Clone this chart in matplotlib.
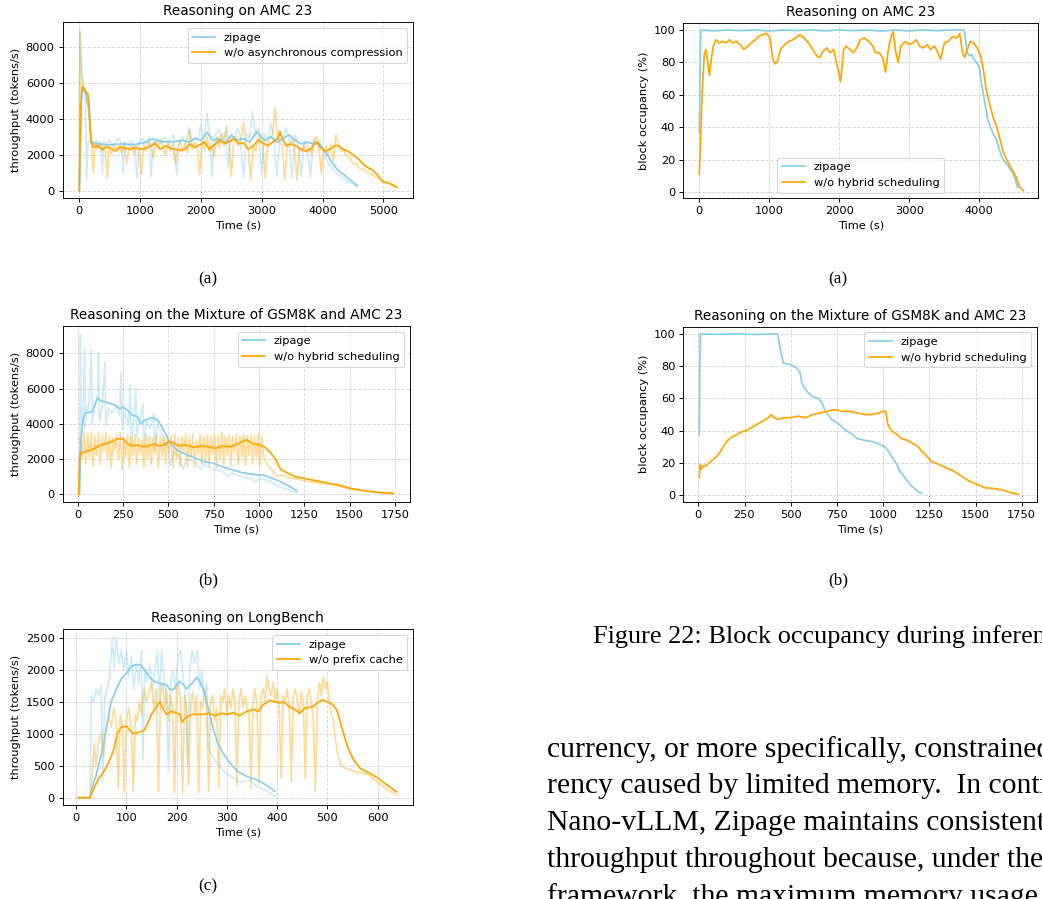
import matplotlib
matplotlib.use('Agg')
import matplotlib.pyplot as plt

DPI = 82
W, H = 1042, 899

ZIP_C = '#87CEEB'
BASE_C = '#FFA500'

# ---------------- data ----------------
# Left (a): throughput on AMC 23
amc_tp_zipage_raw = [(0, 0), (12, 8900), (40, 7000), (70, 5500), (100, 5400), (120, 600), (140, 2700), (170, 2800),
    (200, 2600), (230, 2700), (260, 2500), (290, 2800), (320, 2600), (350, 2700), (380, 1000), (400, 2700),
    (450, 2600), (500, 2800), (550, 2500), (600, 2700), (650, 2900), (700, 2600), (720, 1000), (750, 2700),
    (800, 2500), (850, 2800), (900, 2600), (950, 700), (980, 2700), (1050, 2900), (1100, 2600), (1150, 3000),
    (1180, 800), (1220, 2800), (1300, 2900), (1350, 2600), (1400, 3000), (1450, 2700), (1500, 2800), (1550, 3100),
    (1600, 900), (1650, 2800), (1700, 3000), (1750, 2600), (1800, 3500), (1850, 2700), (1900, 3000), (1950, 2800),
    (2000, 3700), (2050, 2600), (2100, 4300), (2150, 2900), (2180, 800), (2220, 3000), (2300, 3400), (2350, 2700),
    (2400, 3300), (2450, 1300), (2500, 3100), (2550, 2800), (2600, 3500), (2650, 3000), (2700, 700), (2750, 3200),
    (2800, 2900), (2850, 4400), (2900, 3000), (2950, 3500), (3000, 900), (3050, 3200), (3100, 2800), (3150, 3700),
    (3200, 2900), (3250, 800), (3300, 3000), (3350, 2700), (3400, 3500), (3450, 2800), (3500, 700), (3550, 3100),
    (3600, 2700), (3650, 800), (3700, 2800), (3750, 2600), (3800, 700), (3850, 2900), (3900, 2600), (3950, 2800),
    (4000, 2300), (4050, 1900), (4100, 1500), (4150, 1300), (4200, 1100), (4250, 900), (4300, 800), (4350, 650),
    (4400, 550), (4450, 450), (4500, 350), (4580, 200)]
amc_tp_base_raw = [(0, 0), (8, 8800), (30, 6500), (60, 5800), (90, 5500), (120, 5200), (150, 4600), (170, 3500),
    (200, 2700), (230, 1000), (260, 2700), (300, 2300), (340, 2600), (380, 2200), (420, 2500), (460, 700),
    (490, 2400), (530, 2000), (570, 2600), (610, 2300), (650, 2500), (700, 2100), (740, 2700), (780, 1500),
    (820, 2400), (860, 2600), (900, 2000), (940, 2500), (980, 2300), (1020, 900), (1060, 2600), (1100, 2200),
    (1140, 2800), (1180, 2400), (1220, 1800), (1260, 2700), (1300, 2400), (1340, 2900), (1380, 2300), (1420, 2000),
    (1460, 2800), (1500, 2200), (1540, 2600), (1580, 1500), (1620, 2400), (1660, 2800), (1700, 2200), (1740, 2600),
    (1780, 2100), (1820, 3400), (1860, 2300), (1900, 2700), (1940, 2400), (1980, 900), (2020, 2800), (2060, 2300),
    (2100, 3000), (2140, 2200), (2180, 2600), (2220, 1900), (2260, 3000), (2300, 2400), (2340, 3200), (2380, 2500),
    (2420, 3600), (2460, 2600), (2500, 800), (2540, 2800), (2580, 3000), (2620, 2500), (2660, 2900), (2700, 3800),
    (2740, 2600), (2780, 2200), (2820, 600), (2860, 2500), (2900, 2200), (2940, 2800), (2980, 3100), (3020, 2500),
    (3060, 700), (3100, 2700), (3140, 2900), (3180, 3200), (3220, 4600), (3260, 3000), (3300, 2700), (3340, 2400),
    (3380, 600), (3420, 2600), (3460, 2500), (3500, 2900), (3540, 2300), (3580, 600), (3620, 2400), (3660, 2200),
    (3700, 2600), (3740, 2100), (3780, 2400), (3820, 2000), (3860, 2700), (3900, 3000), (3940, 2400), (3980, 1000),
    (4020, 2200), (4060, 2500), (4100, 2000), (4140, 2600), (4180, 1600), (4220, 3100), (4260, 2600), (4300, 2200),
    (4340, 2300), (4380, 2000), (4420, 1900), (4460, 1800), (4500, 1500), (4560, 1500), (4620, 1200), (4680, 1200),
    (4740, 1000), (4800, 900), (4860, 800), (4920, 700), (4980, 500), (5040, 450), (5100, 400), (5160, 300),
    (5220, 150)]
amc_tp_zipage = [(0, 0), (40, 5700), (100, 5500), (160, 4500), (200, 2700), (300, 2600), (500, 2550), (700, 2600),
    (900, 2550), (1100, 2700), (1200, 2900), (1300, 2750), (1500, 2700), (1700, 2800), (1800, 2700), (1900, 2900),
    (2000, 2800), (2100, 3250), (2200, 2800), (2300, 2900), (2400, 2600), (2500, 3100), (2600, 2800), (2700, 2900),
    (2800, 2700), (2920, 3280), (3050, 2800), (3150, 3000), (3250, 2700), (3350, 2900), (3450, 3100), (3550, 2800),
    (3650, 2600), (3750, 2700), (3850, 2600), (3950, 2600), (4050, 2150), (4150, 1600), (4250, 1150), (4350, 900),
    (4450, 600), (4570, 300)]
amc_tp_base = [(0, 0), (20, 4500), (50, 5800), (80, 5700), (110, 5500), (140, 5400), (160, 4800), (190, 2800),
    (230, 2400), (300, 2500), (380, 2300), (450, 2450), (520, 2350), (600, 2200), (680, 2450), (760, 2350),
    (840, 2300), (920, 2400), (1000, 2300), (1080, 2350), (1160, 2450), (1250, 2650), (1330, 2300), (1420, 2500),
    (1500, 2350), (1580, 2300), (1660, 2250), (1740, 2300), (1820, 2600), (1900, 2400), (1980, 2550), (2060, 2700),
    (2140, 2300), (2220, 2550), (2300, 2800), (2380, 2650), (2460, 2700), (2540, 2900), (2620, 2600), (2700, 2650),
    (2780, 2300), (2860, 2500), (2940, 2800), (3020, 2650), (3100, 2500), (3180, 2700), (3260, 2900), (3300, 3300),
    (3340, 2900), (3400, 2500), (3480, 2600), (3560, 2500), (3640, 2300), (3720, 2200), (3800, 2300), (3880, 2650),
    (3920, 2700), (3960, 2400), (4040, 2200), (4120, 2300), (4200, 2500), (4260, 2500), (4340, 2300), (4420, 2200),
    (4500, 2000), (4580, 1800), (4660, 1500), (4740, 1300), (4820, 1150), (4900, 900), (4980, 550), (5060, 450),
    (5140, 350), (5220, 200)]

# Left (b): throughput on the mixture of GSM8K and AMC 23
mix_tp_zipage_raw = [(10, 0), (15, 9100), (20, 3500), (30, 4800), (38, 8300), (42, 3800), (50, 5000), (60, 4600),
    (75, 8200), (80, 4000), (95, 5200), (110, 5600), (115, 8000), (120, 4200), (135, 5000), (150, 7500),
    (155, 3900), (170, 4900), (190, 4600), (210, 5000), (230, 4500), (240, 6900), (245, 3700), (260, 4700),
    (280, 3900), (290, 6200), (295, 2800), (310, 4400), (320, 6000), (325, 3200), (340, 4100), (360, 5100),
    (365, 2800), (380, 4200), (400, 3700), (420, 4600), (425, 2500), (440, 4000), (460, 3500), (480, 2900),
    (500, 2600), (510, 1600), (530, 2400), (560, 2100), (580, 1400), (600, 2000), (650, 1800), (680, 1400),
    (700, 1700), (750, 1400), (800, 1300), (830, 1000), (850, 1200), (900, 1000), (950, 900), (980, 700),
    (1000, 900), (1050, 800), (1100, 500), (1150, 300), (1210, 100)]
mix_tp_base_raw = [(5, 0), (10, 1500), (15, 3300), (25, 2000), (35, 3500), (45, 1700), (55, 3400), (65, 2100),
    (75, 3500), (85, 1600), (95, 3300), (105, 2200), (115, 3500), (125, 1700), (135, 3300), (145, 2400),
    (155, 3500), (165, 2000), (175, 3300), (185, 1500), (195, 3200), (205, 2500), (215, 3400), (225, 2000),
    (235, 3500), (245, 1400), (255, 3200), (265, 2100), (275, 3400), (285, 1500), (295, 3300), (305, 2200),
    (315, 3400), (325, 1700), (335, 3200), (345, 2300), (355, 3100), (365, 1500), (375, 3400), (385, 2000),
    (395, 3300), (405, 1700), (415, 3200), (425, 2300), (435, 3400), (445, 1500), (455, 3300), (465, 2100),
    (475, 3300), (485, 1700), (495, 3400), (505, 2400), (515, 3300), (525, 1500), (535, 3400), (545, 2000),
    (555, 3200), (565, 1600), (575, 3300), (585, 2400), (595, 3400), (605, 1600), (615, 3300), (625, 2100),
    (635, 3400), (645, 1500), (655, 3100), (665, 2300), (675, 3400), (685, 1700), (695, 3300), (705, 2000),
    (715, 3400), (725, 1600), (735, 3300), (745, 2300), (755, 3400), (765, 1500), (775, 3300), (785, 2000),
    (795, 3500), (805, 1700), (815, 3300), (825, 2200), (835, 3400), (845, 1600), (855, 3300), (865, 2400),
    (875, 3400), (885, 1700), (895, 3300), (905, 2100), (915, 3400), (925, 1600), (935, 3300), (945, 2200),
    (955, 3400), (965, 1700), (975, 3300), (985, 2000), (995, 3400), (1005, 1600), (1015, 3300), (1025, 2200),
    (1035, 1900), (1060, 1500), (1080, 1300), (1100, 1000), (1130, 1100), (1160, 950), (1200, 900), (1250, 750),
    (1300, 700), (1350, 600), (1400, 550), (1450, 450), (1500, 300), (1550, 250), (1600, 150), (1650, 100),
    (1700, 50), (1740, 0)]
mix_tp_zipage = [(10, 0), (15, 2000), (20, 3300), (30, 4200), (40, 4600), (60, 4650), (80, 4700), (100, 5200),
    (110, 5450), (130, 5300), (150, 5250), (180, 5150), (210, 5050), (230, 4850), (250, 4950), (270, 4800),
    (300, 4500), (330, 4400), (350, 4000), (370, 4200), (390, 4300), (420, 4350), (440, 4200), (460, 3900),
    (480, 3500), (500, 3100), (520, 2800), (550, 2500), (600, 2250), (650, 2050), (700, 1850), (750, 1750),
    (800, 1550), (850, 1400), (900, 1250), (950, 1150), (1000, 1100), (1030, 1080), (1060, 950), (1100, 800),
    (1150, 550), (1210, 200)]
mix_tp_base = [(5, 0), (12, 2300), (20, 2350), (40, 2400), (60, 2450), (80, 2550), (100, 2650), (130, 2800),
    (160, 2900), (190, 3000), (220, 3150), (250, 3150), (270, 2900), (300, 2750), (330, 2800), (360, 2700),
    (390, 2750), (420, 2850), (450, 2750), (480, 2800), (500, 3000), (530, 2900), (560, 2750), (600, 2800),
    (640, 2650), (680, 2750), (720, 2700), (760, 2600), (800, 2750), (840, 2700), (880, 2850), (910, 3000),
    (930, 3100), (960, 2900), (1000, 2800), (1030, 2700), (1060, 2400), (1090, 2000), (1120, 1400), (1150, 1250),
    (1200, 1000), (1250, 900), (1300, 800), (1350, 700), (1400, 600), (1450, 500), (1500, 350), (1550, 250),
    (1600, 180), (1650, 120), (1700, 80), (1740, 60)]

# Left (c): throughput on LongBench
lb_tp_zipage_raw = [(5, 0), (28, 0), (30, 1600), (35, 1500), (40, 1700), (45, 1600), (50, 1750), (53, 250),
    (57, 1550), (62, 1700), (67, 1900), (72, 2500), (76, 2000), (80, 2500), (85, 2100), (90, 2300), (95, 2000),
    (100, 2300), (105, 1900), (110, 2200), (115, 1700), (120, 2100), (125, 1800), (130, 2300), (133, 600),
    (137, 2000), (142, 1800), (147, 2100), (152, 1700), (157, 2000), (162, 2300), (166, 1500), (170, 2300),
    (175, 1900), (180, 1500), (184, 400), (188, 1800), (193, 2000), (198, 1700), (203, 2200), (208, 2300),
    (213, 1900), (218, 1500), (222, 500), (226, 2000), (231, 2300), (236, 2100), (241, 2300), (246, 1700),
    (250, 2000), (255, 1600), (260, 1800), (263, 800), (268, 700), (275, 600), (285, 500), (295, 400),
    (305, 350), (315, 300), (325, 250), (335, 250), (345, 280), (355, 200), (365, 150), (375, 130), (385, 80),
    (395, 20), (400, 50)]
lb_tp_base_raw = [(5, 0), (28, 0), (32, 300), (36, 850), (40, 500), (45, 900), (50, 1000), (55, 650), (60, 1100),
    (65, 1300), (70, 1100), (75, 1400), (80, 1200), (84, 150), (88, 1300), (92, 1150), (96, 70), (100, 1200),
    (105, 1400), (110, 1100), (114, 100), (118, 1300), (122, 1200), (126, 1500), (130, 1300), (135, 1700),
    (140, 1500), (145, 1650), (150, 1800), (155, 1400), (160, 1700), (164, 100), (168, 1600), (172, 1800),
    (176, 1400), (180, 1700), (184, 1200), (188, 1600), (192, 1400), (196, 80), (200, 1700), (204, 1800),
    (208, 1500), (212, 70), (216, 1600), (220, 1400), (224, 200), (228, 1500), (232, 1650), (236, 1300),
    (240, 1600), (244, 80), (248, 1500), (252, 1400), (256, 1700), (260, 1300), (264, 100), (268, 1500),
    (272, 1600), (276, 1200), (280, 1400), (284, 150), (288, 1600), (292, 1500), (296, 1700), (300, 1300),
    (304, 1600), (308, 1400), (312, 1700), (316, 1500), (320, 200), (324, 1500), (328, 1700), (332, 1400),
    (336, 1600), (340, 1400), (344, 1300), (348, 150), (352, 1500), (356, 1700), (360, 1400), (364, 200),
    (368, 1600), (372, 1700), (376, 1500), (380, 1900), (384, 1700), (388, 1600), (392, 1800), (396, 1500),
    (400, 1700), (404, 1400), (408, 300), (412, 1600), (416, 1500), (420, 1700), (424, 1400), (428, 250),
    (432, 1600), (436, 1700), (440, 1500), (444, 1300), (448, 1650), (452, 1500), (456, 300), (460, 1600),
    (464, 1700), (468, 1500), (472, 1200), (476, 100), (480, 1500), (484, 1800), (488, 1600), (492, 1900),
    (496, 1700), (500, 1800), (504, 1500), (508, 1300), (512, 1200), (516, 900), (520, 700), (525, 550),
    (530, 480), (540, 450), (550, 420), (560, 400), (570, 380), (580, 370), (590, 300), (600, 250), (610, 180),
    (620, 120), (630, 80), (640, 40)]
lb_tp_zipage = [(5, 0), (28, 0), (32, 150), (40, 350), (48, 600), (55, 850), (62, 1150), (70, 1500), (80, 1700),
    (90, 1850), (100, 1950), (110, 2050), (120, 2080), (130, 2070), (140, 1950), (150, 1850), (160, 1800),
    (170, 1780), (180, 1760), (188, 1680), (195, 1700), (205, 1820), (212, 1780), (220, 1700), (230, 1780),
    (240, 1880), (248, 1800), (255, 1650), (263, 1400), (272, 1100), (282, 850), (292, 700), (305, 550),
    (320, 420), (340, 330), (355, 290), (365, 260), (380, 190), (395, 100)]
lb_tp_base = [(5, 0), (28, 0), (32, 80), (36, 150), (45, 300), (55, 400), (65, 550), (75, 750), (82, 1000),
    (90, 1100), (100, 1120), (108, 1050), (115, 1000), (125, 1020), (135, 1050), (142, 1150), (150, 1300),
    (160, 1420), (167, 1500), (172, 1400), (180, 1300), (190, 1350), (200, 1320), (207, 1300), (211, 1180),
    (218, 1250), (230, 1300), (250, 1300), (265, 1320), (275, 1280), (290, 1320), (300, 1300), (313, 1330),
    (325, 1280), (340, 1350), (353, 1380), (362, 1350), (372, 1450), (385, 1520), (395, 1500), (405, 1480),
    (412, 1500), (425, 1420), (435, 1380), (445, 1320), (455, 1400), (470, 1420), (480, 1480), (490, 1530),
    (500, 1500), (510, 1460), (518, 1380), (525, 1200), (532, 1000), (540, 800), (552, 590), (565, 460),
    (580, 400), (598, 320), (618, 200), (638, 90)]

# Right (a): block occupancy on AMC 23
amc_bo_zipage = [(0, 37), (20, 100), (200, 99.5), (400, 100), (600, 99.6), (800, 100), (1000, 99.4), (1200, 100),
    (1400, 99.7), (1600, 100), (1800, 99.5), (2000, 100), (2200, 99.6), (2400, 100), (2600, 99.3), (2800, 100),
    (3000, 99.5), (3200, 100), (3400, 99.6), (3600, 100), (3780, 100), (3800, 95), (3830, 86), (3860, 84),
    (3890, 85), (3920, 82), (3960, 80), (4000, 77), (4040, 65), (4080, 55), (4120, 45), (4160, 40), (4200, 36),
    (4240, 33), (4280, 27), (4320, 22), (4360, 19), (4400, 17), (4440, 14), (4480, 12), (4520, 7), (4550, 3)]
amc_bo_base = [(0, 11), (15, 30), (40, 60), (70, 85), (95, 88), (120, 80), (145, 72), (170, 82), (200, 90),
    (240, 94), (280, 92), (330, 93), (380, 92), (430, 94), (480, 92), (530, 93), (580, 91), (640, 88), (690, 90),
    (740, 92), (800, 94), (850, 96), (900, 97), (960, 98), (1010, 95), (1050, 82), (1080, 79), (1120, 81),
    (1160, 88), (1220, 91), (1280, 93), (1340, 94), (1400, 96), (1440, 97), (1500, 95), (1560, 92), (1620, 88),
    (1680, 84), (1720, 83), (1770, 87), (1820, 89), (1870, 86), (1920, 88), (1960, 80), (2000, 72), (2020, 68),
    (2060, 88), (2100, 90), (2150, 88), (2200, 86), (2250, 89), (2300, 94), (2360, 95), (2420, 93), (2480, 90),
    (2520, 86), (2570, 86), (2620, 83), (2660, 74), (2700, 88), (2740, 96), (2770, 99), (2800, 88), (2840, 80),
    (2880, 90), (2940, 93), (3000, 91), (3050, 92), (3100, 94), (3150, 90), (3200, 89), (3260, 91), (3300, 88),
    (3360, 90), (3420, 85), (3450, 82), (3500, 92), (3560, 93), (3620, 96), (3680, 95), (3720, 98), (3760, 86),
    (3790, 83), (3830, 88), (3870, 93), (3920, 92), (3970, 89), (4020, 84), (4060, 75), (4100, 63), (4150, 54),
    (4200, 46), (4250, 40), (4300, 32), (4340, 25), (4380, 21), (4430, 17), (4480, 13), (4530, 9), (4580, 3),
    (4630, 1)]

# Right (b): block occupancy on the mixture
mix_bo_zipage = [(5, 37), (10, 100), (100, 99.8), (200, 100), (300, 99.7), (400, 100), (430, 100), (445, 90),
    (460, 82), (500, 81), (530, 79), (550, 76), (560, 70), (570, 67), (590, 64), (620, 61), (650, 60), (665, 58),
    (690, 52), (720, 47), (750, 45), (780, 42), (800, 40), (830, 38), (860, 35), (900, 34), (950, 33), (990, 31),
    (1010, 30), (1030, 27), (1050, 23), (1070, 20), (1090, 15), (1110, 12), (1130, 9), (1150, 6), (1170, 4),
    (1190, 2), (1210, 1)]
mix_bo_base = [(5, 11), (10, 19), (15, 16), (25, 18), (40, 18), (60, 20), (80, 22), (100, 24), (120, 27), (140, 31),
    (160, 34), (180, 36), (200, 37), (230, 39), (260, 40), (290, 42), (320, 44), (350, 46), (380, 48), (395, 50),
    (410, 48), (430, 47), (460, 48), (500, 48), (540, 49), (580, 48), (620, 50), (660, 51), (700, 52), (740, 53),
    (780, 52), (820, 52), (860, 51), (900, 50), (940, 50), (980, 51), (1000, 52), (1015, 52), (1025, 44),
    (1045, 40), (1070, 38), (1100, 35), (1130, 34), (1160, 32), (1190, 30), (1210, 27), (1230, 25), (1260, 21),
    (1300, 19), (1340, 17), (1380, 15), (1420, 12), (1460, 9), (1500, 7), (1550, 4.5), (1600, 4), (1650, 3),
    (1690, 1.5), (1730, 0.5)]

titles = ['Reasoning on AMC 23', 'Reasoning on the Mixture of GSM8K and AMC 23', 'Reasoning on LongBench']
legend_zipage = 'zipage'
legend_left = ['w/o asynchronous compression', 'w/o hybrid scheduling', 'w/o prefix cache']
legend_right = 'w/o hybrid scheduling'
xlabel = 'Time (s)'
ylabel_tp = 'throughput (tokens/s)'
ylabel_bo = 'block occupancy (%)'
subcaps = ['(a)', '(b)', '(c)']
fig_caption = 'Figure 22: Block occupancy during inference'
body_lines = [
    'currency, or more specifically, constrained concur-',
    'rency caused by limited memory.  In contrast to',
    'Nano-vLLM, Zipage maintains consistently high',
    'throughput throughout because, under the Zipage',
    'framework, the maximum memory usage is',
]


def xy(pairs):
    return [p[0] for p in pairs], [p[1] for p in pairs]


# ---------------- figure ----------------
fig = plt.figure(figsize=(W / DPI, H / DPI), dpi=DPI)
fig.patch.set_facecolor('white')


def add_ax(box, xref, yref, xticks, yticks):
    l, r, t, b = box
    ax = fig.add_axes([l / W, 1 - b / H, (r - l) / W, (b - t) / H])
    (xv0, xp0), (xv1, xp1) = xref
    sx = (xp1 - xp0) / (xv1 - xv0)
    ax.set_xlim(xv0 + (l - xp0) / sx, xv0 + (r - xp0) / sx)
    (yv0, yp0), (yv1, yp1) = yref
    sy = (yp0 - yp1) / (yv1 - yv0)
    ax.set_ylim(yv0 + (yp0 - b) / sy, yv0 + (yp0 - t) / sy)
    ax.set_xticks(xticks)
    ax.set_yticks(yticks)
    ax.grid(True, linestyle='--', alpha=0.5)
    return ax


def throughput(ax, zraw, braw, zs, bs, title, blabel):
    ax.plot(*xy(zraw), color=ZIP_C, alpha=0.4, lw=1.5)
    ax.plot(*xy(braw), color=BASE_C, alpha=0.4, lw=1.5)
    ax.plot(*xy(zs), color=ZIP_C, lw=1.5, label=legend_zipage)
    ax.plot(*xy(bs), color=BASE_C, lw=1.5, label=blabel)
    ax.set_title(title)
    ax.set_xlabel(xlabel)
    ax.set_ylabel(ylabel_tp)
    ax.legend(loc='upper right')


ax1 = add_ax((62.7, 413, 22.3, 198.3), ((0, 79.3), (5000, 383.3)), ((0, 190.7), (8000, 46.7)),
             [0, 1000, 2000, 3000, 4000, 5000], [0, 2000, 4000, 6000, 8000])
throughput(ax1, amc_tp_zipage_raw, amc_tp_base_raw, amc_tp_zipage, amc_tp_base, titles[0], legend_left[0])

ax2 = add_ax((62.7, 410, 326, 501.7), ((0, 77.7), (1750, 395)), ((0, 494.3), (8000, 353.3)),
             [0, 250, 500, 750, 1000, 1250, 1500, 1750], [0, 2000, 4000, 6000, 8000])
throughput(ax2, mix_tp_zipage_raw, mix_tp_base_raw, mix_tp_zipage, mix_tp_base, titles[1], legend_left[1])

ax3 = add_ax((62.7, 413, 629.3, 805), ((0, 76), (600, 377.7)), ((0, 797.7), (2500, 637.7)),
             [0, 100, 200, 300, 400, 500, 600], [0, 500, 1000, 1500, 2000, 2500])
throughput(ax3, lb_tp_zipage_raw, lb_tp_base_raw, lb_tp_zipage, lb_tp_base, titles[2], legend_left[2])

ax4 = add_ax((683.3, 1038, 22.7, 198.3), ((0, 699.3), (4000, 979.3)), ((0, 192.3), (100, 30)),
             [0, 1000, 2000, 3000, 4000], [0, 20, 40, 60, 80, 100])
ax4.plot(*xy(amc_bo_zipage), color=ZIP_C, lw=1.5, label=legend_zipage)
ax4.plot(*xy(amc_bo_base), color=BASE_C, lw=1.5, label=legend_right)
ax4.set_title(titles[0])
ax4.set_xlabel(xlabel)
ax4.set_ylabel(ylabel_bo)
ax4.legend(loc='lower center')

ax5 = add_ax((683.3, 1036.7, 326.7, 501.7), ((0, 698.3), (1750, 1021.7)), ((0, 495), (100, 334)),
             [0, 250, 500, 750, 1000, 1250, 1500, 1750], [0, 20, 40, 60, 80, 100])
ax5.plot(*xy(mix_bo_zipage), color=ZIP_C, lw=1.5, label=legend_zipage)
ax5.plot(*xy(mix_bo_base), color=BASE_C, lw=1.5, label=legend_right)
ax5.set_title(titles[1])
ax5.set_xlabel(xlabel)
ax5.set_ylabel(ylabel_bo)
ax5.legend(loc='upper right')

# ---------------- captions & body text ----------------
serif = 'Liberation Serif'


def ptext(x, y, s, size, ha='center', va='baseline'):
    fig.text(x / W, 1 - y / H, s, fontsize=size, family=serif, ha=ha, va=va, color='black')


ptext(208, 283, subcaps[0], 15)
ptext(838, 283, subcaps[0], 15)
ptext(208, 584, subcaps[1], 15)
ptext(838, 584, subcaps[1], 15)
ptext(208, 890, subcaps[2], 15)
ptext(592.7, 643, fig_caption, 23, ha='left')
for i, line in enumerate(body_lines):
    ptext(546.7, 756.7 + 36.7 * i, line, 26, ha='left')

fig.savefig('out.png', dpi=DPI, facecolor='white')
